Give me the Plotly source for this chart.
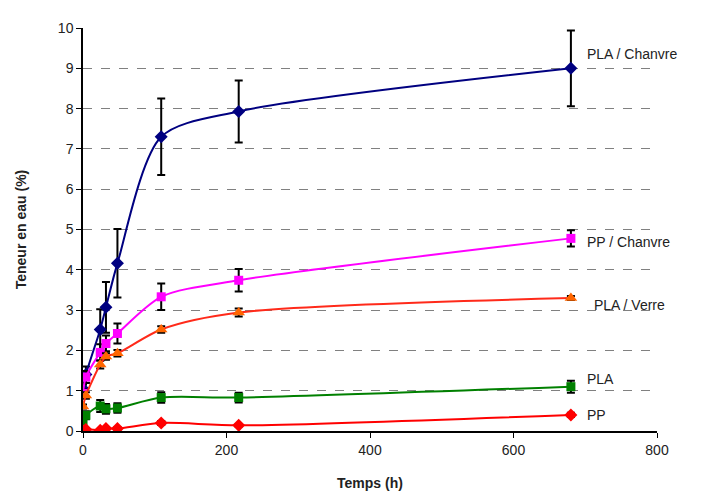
import plotly.graph_objects as go

temps = [0, 4, 24, 32, 48, 109, 217, 680]

pla_chanvre = [1.05, 1.40, 2.52, 3.07, 4.16, 7.30, 7.93, 9.00]
pla_chanvre_err = [0.10, 0.20, 0.50, 0.63, 0.85, 0.95, 0.77, 0.94]

pp_chanvre = [0.93, 1.34, 1.95, 2.17, 2.42, 3.33, 3.74, 4.78]
pp_chanvre_err = [0.10, 0.15, 0.20, 0.20, 0.25, 0.33, 0.28, 0.20]

pla_verre = [0.61, 0.88, 1.65, 1.85, 1.93, 2.52, 2.94, 3.30]
pla_verre_err = [0.05, 0.08, 0.10, 0.08, 0.08, 0.08, 0.10, 0.05]

pla = [0.25, 0.39, 0.62, 0.55, 0.57, 0.83, 0.83, 1.10]
pla_err = [0.05, 0.10, 0.15, 0.12, 0.12, 0.13, 0.12, 0.15]

pp = [0.00, 0.04, 0.02, 0.06, 0.06, 0.20, 0.14, 0.40]
pp_err = [0.03, 0.03, 0.03, 0.03, 0.03, 0.05, 0.03, 0.05]

series = [
    ("PLA / Chanvre", pla_chanvre, pla_chanvre_err, "#000080", "#000080", "diamond", 10, 9.35),
    ("PP / Chanvre", pp_chanvre, pp_chanvre_err, "#FF00FF", "#FF00FF", "square", 9, 4.69),
    ("PLA / Verre", pla_verre, pla_verre_err, "#FF2A1A", "#FF6600", "triangle-up", 11, 3.12),
    ("PLA", pla, pla_err, "#008000", "#008000", "square", 9, 1.30),
    ("PP", pp, pp_err, "#FF0000", "#FF0000", "diamond", 10, 0.40),
]

fig = go.Figure()
for name, vals, errs, lc, mc, sym, ms, ly in series:
    fig.add_trace(go.Scatter(
        x=temps, y=vals, name=name, mode="lines+markers",
        line=dict(color=lc, width=2, shape="spline", smoothing=0.8),
        marker=dict(color=mc, symbol=sym, size=ms),
        error_y=dict(type="data", array=errs, color="black", thickness=2, width=4),
        showlegend=False,
    ))
    fig.add_annotation(
        x=temps[-1], y=ly, xref="x", yref="y", text=name, showarrow=False,
        xanchor="left", yanchor="middle", xshift=14 if name != "PLA / Verre" else 21,
        font=dict(family="Liberation Sans, Arial, sans-serif", size=14, color="#222222"),
    )

fig.update_layout(
    width=710, height=494,
    margin=dict(l=73, r=61, t=16, b=71),
    plot_bgcolor="white", paper_bgcolor="white",
    font=dict(family="Liberation Sans, Arial, sans-serif", size=14, color="#222222"),
)
fig.update_xaxes(
    range=[0, 800], tickvals=[0, 200, 400, 600, 800],
    showgrid=False, zeroline=False, showline=True, linecolor="black", linewidth=1.5,
    ticks="outside", ticklen=5, tickcolor="black",
    title=dict(text="<b>Temps (h)</b>", font=dict(size=14), standoff=22),
)
fig.update_yaxes(
    range=[0, 10], tickvals=list(range(0, 11)),
    showgrid=True, gridcolor="#808080", griddash="dash", gridwidth=1,
    zeroline=False, showline=True, linecolor="black", linewidth=1.5,
    ticks="outside", ticklen=5, tickcolor="black",
    title=dict(text="<b>Teneur en eau (%)</b>", font=dict(size=14), standoff=28),
)

fig.write_html("out.html")
